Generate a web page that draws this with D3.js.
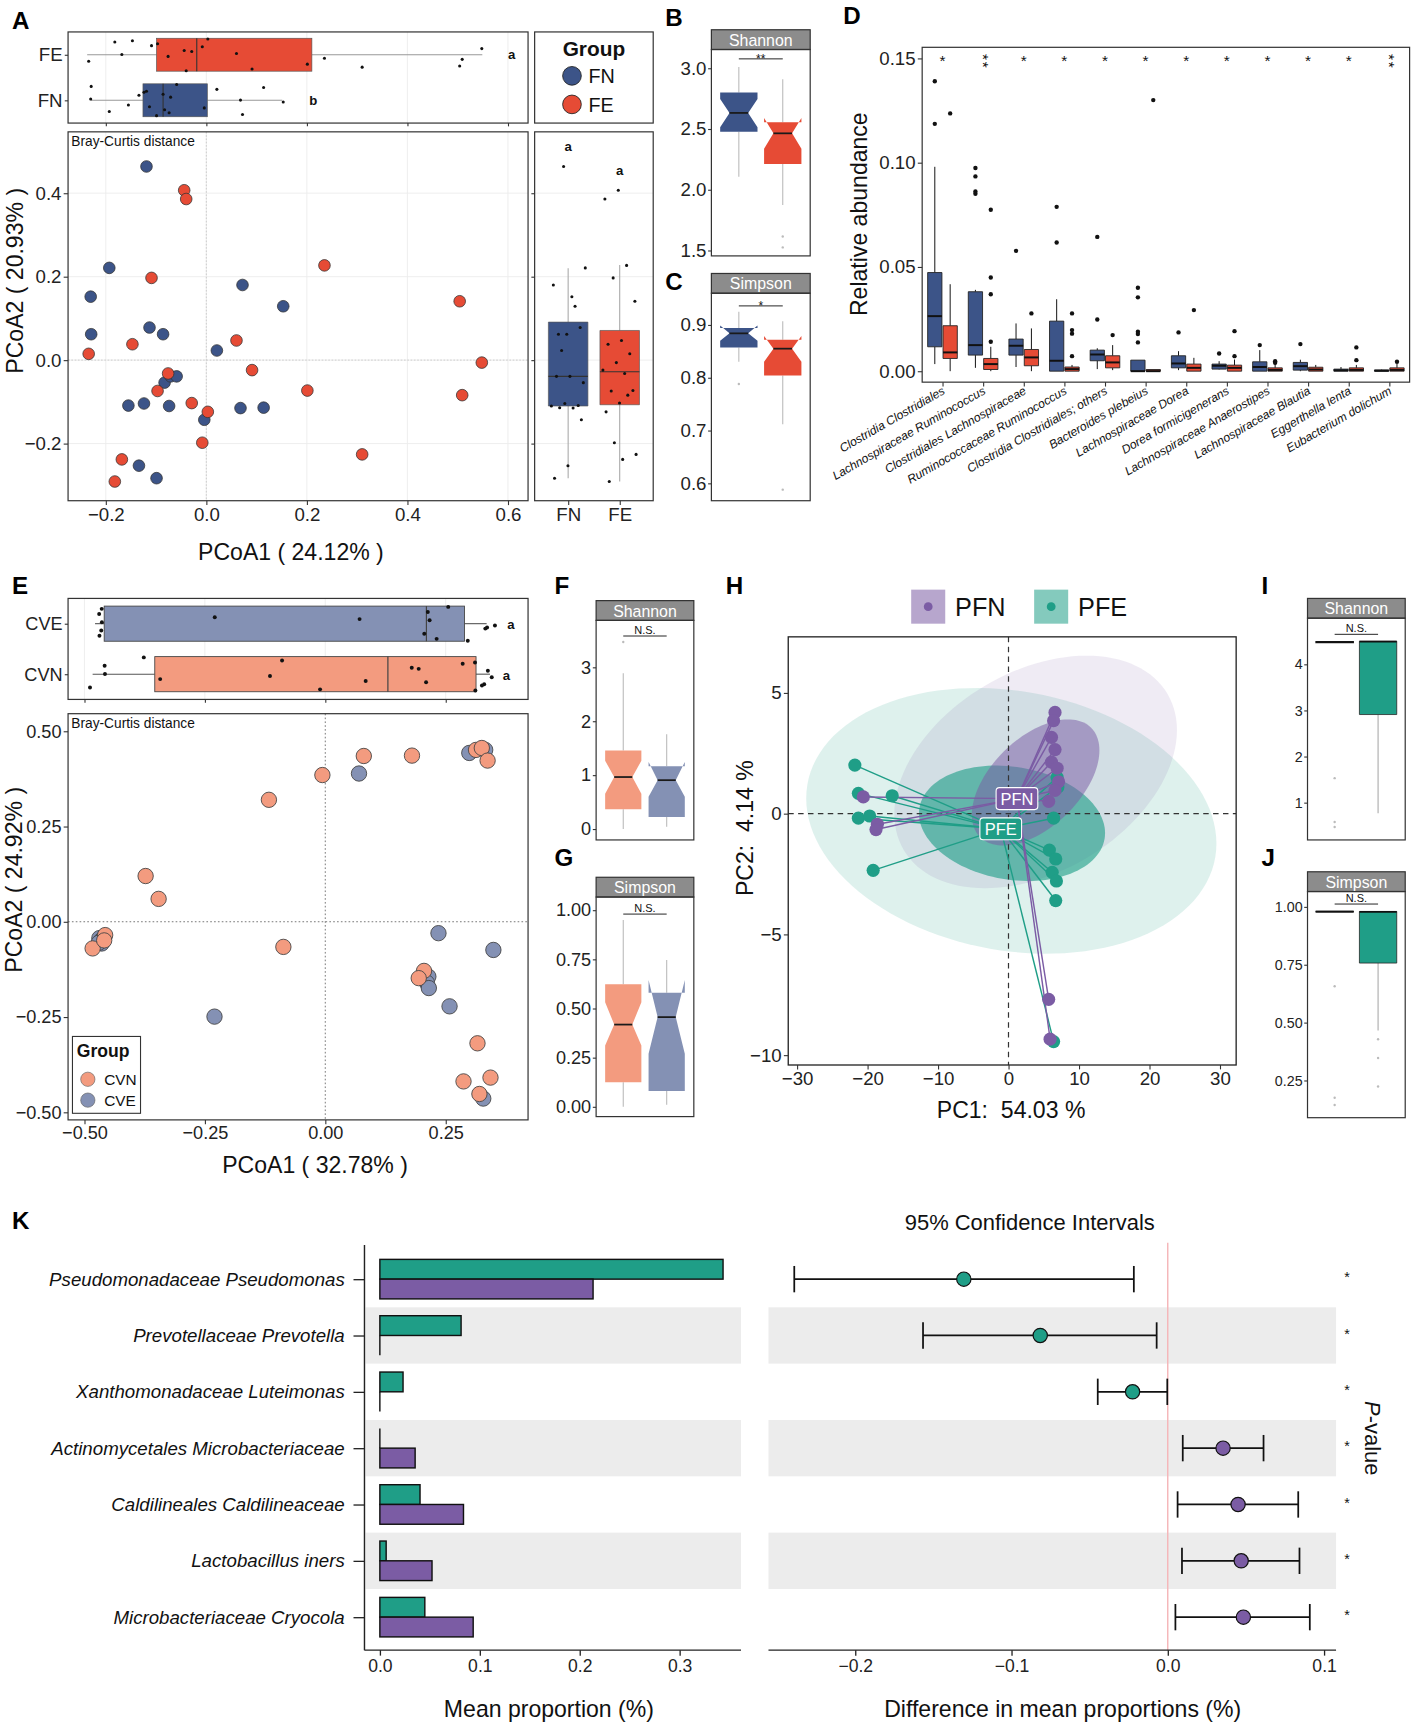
<!DOCTYPE html>
<html><head><meta charset="utf-8">
<script src="https://cdn.jsdelivr.net/npm/d3@7"></script>
<style>body{margin:0;background:#fff}svg{display:block}</style>
</head><body>
<svg id="fig"></svg>
<script>
// ================= DATA =================
// Panel A (PCoA, FN vs FE)
const aFN = [[-0.119,0.464],[-0.193,0.221],[-0.230,0.152],[-0.229,0.062],[-0.113,0.078],[-0.086,0.062],[0.072,0.180],[0.153,0.129],[0.021,0.023],[-0.083,-0.054],[-0.071,-0.039],[-0.059,-0.039],[-0.155,-0.109],[-0.124,-0.104],[-0.074,-0.110],[0.068,-0.115],[0.114,-0.114],[-0.004,-0.143],[-0.134,-0.253],[-0.099,-0.283]];
const aFE = [[-0.044,0.407],[-0.040,0.386],[0.235,0.227],[-0.109,0.197],[0.504,0.141],[0.060,0.047],[-0.147,0.038],[-0.234,0.015],[0.548,-0.006],[0.091,-0.024],[-0.076,-0.032],[-0.097,-0.074],[0.201,-0.073],[-0.029,-0.103],[0.003,-0.124],[0.509,-0.084],[-0.008,-0.198],[0.310,-0.226],[-0.168,-0.238],[-0.182,-0.291]];
const aTopFE = [-0.237,-0.099,-0.019,0.210,0.549];
const aTopFN = [-0.230,-0.126,-0.086,0.002,0.151];
const aRightFN = [-0.283,-0.110,-0.039,0.091,0.220];
const aRightFE = [-0.291,-0.107,-0.028,0.071,0.228];
const aXTicks = [-0.2,0,0.2,0.4,0.6], aXLabels = ["\u22120.2","0.0","0.2","0.4","0.6"];
const aYTicks = [-0.2,0,0.2,0.4], aYLabels = ["\u22120.2","0.0","0.2","0.4"];
// Panel B / C
const bFN = [2.107,2.478,2.632,2.80,3.01], bFNnotch = [2.514,2.747];
const bFE = [1.874,2.212,2.464,2.555,2.91], bFEnotch = [2.337,2.59], bFEout = [1.615,1.525];
const bTicks = [1.5,2.0,2.5,3.0], bLabels = ["1.5","2.0","2.5","3.0"];
const cFN = [0.83,0.857,0.884,0.894,0.925], cFNnotch = [0.870,0.899], cFNout = [0.788];
const cFE = [0.712,0.804,0.855,0.872,0.907], cFEnotch = [0.830,0.879], cFEout = [0.588];
const cTicks = [0.6,0.7,0.8,0.9], cLabels = ["0.6","0.7","0.8","0.9"];
// Panel D
const dCats = ["Clostridia Clostridiales","Lachnospiraceae Ruminococcus","Clostridiales Lachnospiraceae","Ruminococcaceae Ruminococcus","Clostridia Clostridiales; others","Bacteroides plebeius","Lachnospiraceae Dorea","Dorea formicigenerans","Lachnospiraceae Anaerostipes","Lachnospiraceae Blautia","Eggerthella lenta","Eubacterium dolichum"];
const dFN = [[0.0034,0.0117,0.0264,0.0473,0.098],[0.0016,0.0077,0.0125,0.0381,0.039],[0.002,0.0077,0.0122,0.0154,0.0229],[0,0,0.005,0.024,0.0345],[0.001,0.005,0.008,0.0101,0.011],[0,0,0,0.0053,0.0053],[0.0005,0.0016,0.0037,0.0074,0.0096],[0.0008,0.001,0.0026,0.0034,0.0048],[0,0,0.002,0.0045,0.0101],[0,0.0005,0.0024,0.0042,0.0055],[0,0,0.0004,0.001,0.002],[0,0,0.0002,0.0006,0.0008]];
const dFNout = [[0.1186,0.139],[0.0974,0.0934,0.0862,0.0851],[0.0577],[0.0788,0.0617],[0.0644,0.0248],[0.040,0.0354,0.0189,0.0178,0.0138],[0.0186],[0.0085],[0.0125],[0.013],[],[]];
const dFE = [[0,0.0061,0.009,0.0218,0.0417],[0,0.0008,0.0034,0.0061,0.0117],[0,0.0026,0.0066,0.0104,0.0205],[0,0,0.001,0.002,0.003],[0.0005,0.0016,0.0042,0.0074,0.0125],[0,0,0,0.0008,0.0008],[0,0,0.0016,0.0034,0.0064],[0,0,0.0016,0.0029,0.0056],[0,0,0.0006,0.0016,0.0035],[0,0,0.0008,0.0019,0.003],[0,0,0.0006,0.0016,0.003],[0,0,0.0006,0.0016,0.0035]];
const dFEout = [[0.1236],[0.0774,0.0449,0.0369,0.0141],[0.0277],[0.0277,0.0197,0.018,0.0072],[0.0173],[0.130],[0.0293],[0.0192,0.0072],[0.0048,0.004],[],[0.0114,0.0053],[0.0045]];
const dSig = ["*","**","*","*","*","*","*","*","*","*","*","**"];
const dTicks = [0,0.05,0.10,0.15], dLabels = ["0.00","0.05","0.10","0.15"];
// Panel E
const eCVE = [[0.070,0.389],[0.299,0.443],[0.332,0.451],[-0.469,-0.043],[-0.464,-0.057],[-0.466,-0.050],[-0.462,-0.045],[-0.470,-0.055],[-0.230,-0.249],[0.235,-0.030],[0.349,-0.074],[0.214,-0.144],[0.211,-0.160],[0.215,-0.174],[0.258,-0.222],[0.328,-0.464]];
const eCVN = [[0.080,0.435],[0.180,0.436],[-0.006,0.385],[-0.117,0.320],[0.313,0.451],[0.325,0.456],[0.337,0.423],[-0.373,0.120],[-0.346,0.060],[-0.457,-0.035],[-0.483,-0.070],[-0.459,-0.049],[-0.087,-0.066],[0.205,-0.129],[0.194,-0.148],[0.316,-0.319],[0.343,-0.409],[0.287,-0.419],[0.320,-0.452]];
const eTopCVE = [-0.478,-0.459,0.210,0.289,0.335];
const eTopCVN = [-0.483,-0.354,0.130,0.313,0.342];
const eXTicks = [-0.5,-0.25,0,0.25], eXLabels = ["\u22120.50","\u22120.25","0.00","0.25"];
const eYTicks = [0.5,0.25,0,-0.25,-0.5], eYLabels = ["0.50","0.25","0.00","\u22120.25","\u22120.50"];
// Panel F / G
const fCVN = [0,0.368,0.964,1.455,2.89], fCVNnotch = [0.653,1.267], fCVNout = [3.47];
const fCVE = [0.04,0.224,0.906,1.166,1.76], fCVEnotch = [0.60,1.245];
const fTicks = [0,1,2,3], fLabels = ["0","1","2","3"];
const gCVN = [0,0.125,0.418,0.623,0.95], gCVNnotch = [0.311,0.532];
const gCVE = [0.01,0.08,0.456,0.58,0.746], gCVEnotch = [0.27,0.645];
const gTicks = [0,0.25,0.5,0.75,1.0], gLabels = ["0.00","0.25","0.50","0.75","1.00"];
// Panel H (PCA)
const hPFN = [[6.6,4.19],[6.4,3.85],[6.1,3.16],[6.6,2.65],[6.1,2.13],[6.9,1.88],[7.1,1.32],[6.6,0.96],[5.7,0.51],[-20.6,0.69],[-18.6,-0.44],[-18.8,-0.66],[5.7,-7.69],[5.9,-9.34]];
const hPFE = [[-21.8,2.01],[-21.3,0.84],[-16.5,0.74],[-21.3,-0.19],[-19.7,-0.10],[-19.2,-2.35],[6.4,-0.19],[5.8,-1.51],[6.7,-1.88],[6.2,-2.43],[6.8,-2.79],[6.7,-3.60],[6.4,-9.44],[6.9,1.5],[7.0,1.1]];
const hCentroidPFN = [1.2,0.62], hCentroidPFE = [-1.1,-0.63];
// ellipses: [cx, cy, x-halfwidth, y-halfheight, correlation]
const hEllPFEouter = [0.4,-0.3,29.1,5.5,-0.17];
const hEllPFNouter = [3.85,1.725,20.05,4.815,0.36];
const hEllPFEinner = [0.5,-0.4,13.2,2.39,-0.17];
const hEllPFNinner = [3.85,1.29,9.05,2.61,0.51];
const hXTicks = [-30,-20,-10,0,10,20,30], hXLabels = ["\u221230","\u221220","\u221210","0","10","20","30"];
const hYTicks = [5,0,-5,-10], hYLabels = ["5","0","\u22125","\u221210"];
// Panel I / J
const iPFN = [4.47,4.47,4.48,4.49,4.49], iPFNout = [1.53,0.58,0.47];
const iPFE = [0.77,2.91,4.49,4.50,4.50];
const iTicks = [1,2,3,4], iLabels = ["1","2","3","4"];
const jPFN = [0.978,0.978,0.979,0.980,0.980], jPFNout = [0.657,0.175,0.144];
const jPFE = [0.466,0.757,0.978,0.980,0.980], jPFEout = [0.428,0.347,0.224];
const jTicks = [0.25,0.5,0.75,1.0], jLabels = ["0.25","0.50","0.75","1.00"];
// Panel K
const kTaxa = ["Pseudomonadaceae Pseudomonas","Prevotellaceae Prevotella","Xanthomonadaceae Luteimonas","Actinomycetales Microbacteriaceae","Caldilineales Caldilineaceae","Lactobacillus iners","Microbacteriaceae Cryocola"];
const kPFE = [0.3435,0.0813,0.0232,0,0.0402,0.0063,0.045];
const kPFN = [0.2134,0,0,0.0353,0.0837,0.0522,0.0934];
const kDiff = [-0.1305,-0.0816,-0.0225,0.0354,0.045,0.047,0.0484];
const kLo = [-0.239,-0.1566,-0.0448,0.0096,0.0063,0.0091,0.0049];
const kHi = [-0.0217,-0.0071,-0.0003,0.0613,0.0835,0.0843,0.0909];
const kP = ["*","*","*","*","*","*","*"];
const kTicks = [0,0.1,0.2,0.3], kLabels = ["0.0","0.1","0.2","0.3"];
const ciTicks = [-0.2,-0.1,0,0.1], ciLabels = ["\u22120.2","\u22120.1","0.0","0.1"];

// ================= STYLE =================
const C_FN="#3C5488", C_FE="#E64B35", C_CVN="#F39B7F", C_CVE="#8491B4", C_PFN="#7B5CA4", C_PFE="#1F9E87";
const SANS="'Liberation Sans', Arial, Helvetica, sans-serif";
const NARROW="'Liberation Sans Narrow', 'Arial Narrow', 'Liberation Sans', sans-serif";
const SP="\u00a0";

const W=1288,H=1572;
const svg=d3.select('#fig').attr('width',1414).attr('height',1726).attr('viewBox',`0 0 ${W} ${H}`);
svg.append('rect').attr('width',W).attr('height',H).attr('fill','#fff');

function txt(g,x,y,s,o={}){
  const t=g.append('text').attr('x',x).attr('y',y).text(s)
    .attr('font-family',o.ff||SANS).attr('font-size',o.fs||16).attr('fill',o.fill||'#111')
    .attr('text-anchor',o.anchor||'start');
  if(o.fw) t.attr('font-weight',o.fw);
  if(o.it) t.attr('font-style','italic');
  if(o.rot!==undefined) t.attr('transform',`rotate(${o.rot},${x},${y})`);
  return t;
}
function line(g,x1,y1,x2,y2,col,w,dash){
  const l=g.append('line').attr('x1',x1).attr('y1',y1).attr('x2',x2).attr('y2',y2).attr('stroke',col||'#333').attr('stroke-width',w||1);
  if(dash) l.attr('stroke-dasharray',dash);
  return l;
}
function frame(g,x0,y0,x1,y1,col,w){
  g.append('rect').attr('x',x0).attr('y',y0).attr('width',x1-x0).attr('height',y1-y0).attr('fill','none').attr('stroke',col||'#333').attr('stroke-width',w||1.1);
}
function axis(g,orient,scale,pos,vals,labels,o={}){
  const gen=(orient==='left'?d3.axisLeft:d3.axisBottom)(scale).tickValues(vals)
    .tickSize(o.ts??4).tickPadding(o.tp??2).tickFormat((d,i)=>labels?labels[i]:'');
  const a=g.append('g').attr('transform',orient==='left'?`translate(${pos},0)`:`translate(0,${pos})`).call(gen);
  a.select('.domain').remove();
  a.selectAll('line').attr('stroke',o.tc||'#333').attr('stroke-width',o.tw||1);
  a.selectAll('text').attr('font-family',o.ff||SANS).attr('font-size',o.fs||16).attr('fill',o.col||'#222');
  if(o.it) a.selectAll('text').attr('font-style','italic');
  return a;
}
function strip(g,x0,x1,y0,y1,label){
  g.append('rect').attr('x',x0).attr('y',y0).attr('width',x1-x0).attr('height',y1-y0).attr('fill','#8c8c8c').attr('stroke','#333').attr('stroke-width',1.1);
  txt(g,(x0+x1)/2,y1-3.5,label,{fs:14.5,fill:'#fff',anchor:'middle'});
}
// vertical box: s=[wlo,q1,med,q3,whi]
function boxV(g,y,cx,w,s,o){
  line(g,cx,y(s[0]),cx,y(s[1]),o.wcol||'#333',o.ww||0.8);
  line(g,cx,y(s[3]),cx,y(s[4]),o.wcol||'#333',o.ww||0.8);
  const l=cx-w/2,r=cx+w/2;let pts;
  if(o.notch){const [nl,nh]=o.notch;
    pts=[[l,y(s[3])],[l,y(nh)],[cx-w/4,y(s[2])],[l,y(nl)],[l,y(s[1])],[r,y(s[1])],[r,y(nl)],[cx+w/4,y(s[2])],[r,y(nh)],[r,y(s[3])]];
  } else pts=[[l,y(s[3])],[l,y(s[1])],[r,y(s[1])],[r,y(s[3])]];
  g.append('path').attr('d','M'+pts.map(p=>p.join(',')).join('L')+'Z').attr('fill',o.fill).attr('stroke',o.stroke||'none').attr('stroke-width',o.sw||0.6);
  const ml=o.notch?cx-w/4:l, mr=o.notch?cx+w/4:r;
  line(g,ml,y(s[2]),mr,y(s[2]),o.mcol||'#222',o.mw||1.6);
  (o.out||[]).forEach(v=>g.append('circle').attr('cx',cx).attr('cy',y(v)).attr('r',o.or||1.2).attr('fill',o.ocol||'#bbb'));
}
function boxH(g,x,cy,h,s,o){
  line(g,x(s[0]),cy,x(s[1]),cy,o.wcol||'#999',o.ww||1);
  line(g,x(s[3]),cy,x(s[4]),cy,o.wcol||'#999',o.ww||1);
  g.append('rect').attr('x',x(s[1])).attr('y',cy-h/2).attr('width',x(s[3])-x(s[1])).attr('height',h).attr('fill',o.fill).attr('stroke',o.stroke||'#555').attr('stroke-width',o.sw||0.6);
  line(g,x(s[2]),cy-h/2,x(s[2]),cy+h/2,o.mcol||'#333',o.mw||1);
}
const jit=(i,amp)=>((i*0.6180339887+0.37)%1-0.5)*2*amp;
function sigBar(g,x1,x2,y,label,fs){
  line(g,x1,y,x2,y,'#222',0.9);
  const star=label.indexOf('*')>=0;
  txt(g,(x1+x2)/2,star?y+3.5:y-2,label,{fs:fs||10,anchor:'middle',fill:'#111'});
}
function panelLetter(s,x,y){ txt(svg,x,y,s,{fs:22,fw:'bold',fill:'#000'}); }

// ================= PANEL A =================
{
const g=svg.append('g');
const xA=d3.scaleLinear().domain([-0.275,0.64]).range([62,481]);
const yA=d3.scaleLinear().domain([-0.337,0.547]).range([456,120]);
aXTicks.forEach(v=>{line(g,xA(v),120,xA(v),456,'#ececec',0.8);line(g,xA(v),29,xA(v),112,'#ececec',0.8);});
aYTicks.forEach(v=>{line(g,62,yA(v),481,yA(v),'#ececec',0.8);line(g,487,yA(v),595,yA(v),'#ececec',0.8);});
line(g,xA(0),120,xA(0),456,'#c8c8c8',0.8,'1.5,1.5');
line(g,62,yA(0),481,yA(0),'#c8c8c8',0.8,'1.5,1.5');
const yT=d3.scaleBand().domain(['FN','FE']).range([112,29]);
const cFE=yT('FE')+yT.bandwidth()/2, cFNy=yT('FN')+yT.bandwidth()/2;
boxH(g,xA,cFE,30,aTopFE,{fill:C_FE});
boxH(g,xA,cFNy,30,aTopFN,{fill:C_FN});
aFE.forEach((p,i)=>g.append('circle').attr('cx',xA(p[0])).attr('cy',cFE+jit(i,15)).attr('r',1.4).attr('fill','#111'));
aFN.forEach((p,i)=>g.append('circle').attr('cx',xA(p[0])).attr('cy',cFNy+jit(i+3,15)).attr('r',1.4).attr('fill','#111'));
txt(g,xA(0.60),cFE+4,'a',{fs:12,fw:'bold'});
txt(g,xA(0.205),cFNy+4,'b',{fs:12,fw:'bold'});
frame(g,62,29,481,112);
axis(g,'left',d3.scalePoint().domain(['FN','FE']).range([cFNy,cFE]),62,['FE','FN'],['FE','FN'],{fs:17,ts:3});
axis(g,'bottom',xA,112,aXTicks,null,{ts:3});
frame(g,487,29,595,112);
txt(g,541,51,'Group',{fs:19,fw:'bold',anchor:'middle'});
[['FN',C_FN,69],['FE',C_FE,95]].forEach(([n,c,yy])=>{
  g.append('circle').attr('cx',521).attr('cy',yy).attr('r',8.5).attr('fill',c).attr('stroke','#222').attr('stroke-width',0.8);
  txt(g,536,yy+6.5,n,{fs:18});
});
txt(g,65,133,'Bray-Curtis distance',{fs:12.5});
aFN.forEach(p=>g.append('circle').attr('cx',xA(p[0])).attr('cy',yA(p[1])).attr('r',5.3).attr('fill',C_FN).attr('stroke','#333').attr('stroke-width',0.7));
aFE.forEach(p=>g.append('circle').attr('cx',xA(p[0])).attr('cy',yA(p[1])).attr('r',5.3).attr('fill',C_FE).attr('stroke','#333').attr('stroke-width',0.7));
frame(g,62,120,481,456);
axis(g,'left',yA,62,aYTicks,aYLabels,{fs:17});
axis(g,'bottom',xA,456,aXTicks,aXLabels,{fs:17});
txt(g,21,yA(0.19),'PCoA2 ( 20.93% )',{fs:21,anchor:'middle',rot:-90,fill:'#111'});
txt(g,265,510,'PCoA1 ( 24.12% )',{fs:21,anchor:'middle'});
const xR=d3.scalePoint().domain(['FN','FE']).range([487,595]).padding(0.65);
boxV(g,yA,xR('FN'),36,aRightFN,{fill:C_FN,stroke:'#555',sw:0.6,wcol:'#aaa',ww:1,mcol:'#333',mw:1});
boxV(g,yA,xR('FE'),36,aRightFE,{fill:C_FE,stroke:'#555',sw:0.6,wcol:'#aaa',ww:1,mcol:'#333',mw:1});
aFN.forEach((p,i)=>g.append('circle').attr('cx',xR('FN')+jit(i,16)).attr('cy',yA(p[1])).attr('r',1.4).attr('fill','#111'));
aFE.forEach((p,i)=>g.append('circle').attr('cx',xR('FE')+jit(i+5,16)).attr('cy',yA(p[1])).attr('r',1.4).attr('fill','#111'));
txt(g,xR('FN'),yA(0.512)+4,'a',{fs:12,fw:'bold',anchor:'middle'});
txt(g,xR('FE'),yA(0.454)+4,'a',{fs:12,fw:'bold',anchor:'middle'});
frame(g,487,120,595,456);
axis(g,'bottom',xR,456,['FN','FE'],['FN','FE'],{fs:17});
axis(g,'left',yA,487,aYTicks,null,{ts:3});
}
panelLetter('A',11,26);

// ================= alpha-diversity helper =================
function alphaPanel(x0,x1,ys,ye,stripLabel,domain,ticks,labels,boxes,sig,opt){
  const g=svg.append('g');
  strip(g,x0,x1,ys,ys+18,stripLabel);
  const y=d3.scaleLinear().domain(domain).range([ye,ys+18]);
  const xp=d3.scalePoint().domain(['a','b']).range([x0,x1]).padding(0.625);
  boxes.forEach((b,i)=>boxV(g,y,xp(i?'b':'a'),opt.bw||34,b.s,Object.assign({wcol:'#bbb',ww:1,mcol:'#1a1a1a',mw:1.6,ocol:'#bbb',or:1.1},opt.box||{},b)));
  frame(g,x0,ys+18,x1,ye);
  axis(g,'left',y,x0,ticks,labels,{fs:opt.fs||17,ff:opt.ff||NARROW,ts:3,tp:1.5});
  sigBar(g,xp('a'),xp('b'),y(sig[0]),sig[1],sig[2]);
  return y;
}
alphaPanel(648,738,27,233,'Shannon',[1.455,3.154],bTicks,bLabels,
  [{s:bFN,fill:C_FN,notch:bFNnotch},{s:bFE,fill:C_FE,notch:bFEnotch,out:bFEout}],[3.077,'**',11],{});
alphaPanel(648,738,249,456,'Simpson',[0.567,0.960],cTicks,cLabels,
  [{s:cFN,fill:C_FN,notch:cFNnotch,out:cFNout},{s:cFE,fill:C_FE,notch:cFEnotch,out:cFEout}],[0.936,'*',11],{});
panelLetter('B',606,24);
panelLetter('C',606,264);

// ================= PANEL D =================
{
const g=svg.append('g');
const xD=d3.scaleBand().domain(dCats).range([840,1284]);
const yD=d3.scaleLinear().domain([-0.00526,0.1553]).range([348,43]);
dCats.forEach((c,i)=>{
  const cx=xD(c)+xD.bandwidth()/2;
  boxV(g,yD,cx-7,13,dFN[i],{fill:C_FN,stroke:'#222',sw:0.8,wcol:'#111',ww:0.9,mcol:'#111',mw:1.8,out:dFNout[i],ocol:'#111',or:2});
  boxV(g,yD,cx+7,13,dFE[i],{fill:C_FE,stroke:'#222',sw:0.8,wcol:'#111',ww:0.9,mcol:'#111',mw:1.8,out:dFEout[i],ocol:'#111',or:2});
  const y0=yD(0.15);
  if(dSig[i]==='**'){
    // stacked stars: one text run rotated so the two glyphs sit one above the other
    g.append('text').attr('transform',`translate(${cx-5},${y0-4}) rotate(90)`).attr('text-anchor','start')
      .attr('font-family',SANS).attr('font-size',14).attr('letter-spacing',1.6).attr('fill','#111').text('**');
  } else {
    txt(g,cx,y0+7,'*',{fs:14,anchor:'middle'});
  }
  txt(g,cx+3,358,c,{fs:11,it:true,anchor:'end',rot:-30,fill:'#111'});
});
frame(g,840,43,1284,348);
axis(g,'left',yD,840,dTicks,dLabels,{fs:17,ff:NARROW,ts:4});
const xc=d3.scalePoint().domain(dCats).range([840+xD.bandwidth()/2,1284-xD.bandwidth()/2]);
axis(g,'bottom',xc,348,dCats,null,{ts:4});
txt(g,790,195,'Relative abundance',{fs:21,anchor:'middle',rot:-90});
}
panelLetter('D',768,22);

// ================= PANEL E =================
{
const g=svg.append('g');
const xE=d3.scaleLinear().domain([-0.534,0.421]).range([62,481]);
const yE=d3.scaleLinear().domain([-0.520,0.546]).range([1020,650]);
const yT=d3.scaleBand().domain(['CVN','CVE']).range([637,545]);
const cCVE=yT('CVE')+yT.bandwidth()/2, cCVN=yT('CVN')+yT.bandwidth()/2;
eXTicks.forEach(v=>line(g,xE(v),545,xE(v),637,'#ececec',0.8));
boxH(g,xE,cCVE,32,eTopCVE,{fill:C_CVE,stroke:'#444',sw:0.8,wcol:'#555',ww:1,mcol:'#444',mw:1.1});
boxH(g,xE,cCVN,32,eTopCVN,{fill:C_CVN,stroke:'#444',sw:0.8,wcol:'#555',ww:1,mcol:'#444',mw:1.1});
eCVE.forEach((p,i)=>g.append('circle').attr('cx',xE(p[0])+jit(i+2,2.5)).attr('cy',cCVE+jit(i,16)).attr('r',1.8).attr('fill','#111'));
eCVN.forEach((p,i)=>g.append('circle').attr('cx',xE(p[0])+jit(i+4,2.5)).attr('cy',cCVN+jit(i+7,16)).attr('r',1.8).attr('fill','#111'));
txt(g,462,cCVE+5,'a',{fs:12,fw:'bold'});
txt(g,458,cCVN+5,'a',{fs:12,fw:'bold'});
frame(g,62,545,481,637);
axis(g,'left',d3.scalePoint().domain(['CVN','CVE']).range([cCVN,cCVE]),62,['CVE','CVN'],['CVE','CVN'],{fs:16.5,ts:3});
axis(g,'bottom',xE,637,eXTicks,null,{ts:3});
line(g,xE(0),650,xE(0),1020,'#777',0.9,'1.5,2');
line(g,62,yE(0),481,yE(0),'#777',0.9,'1.5,2');
txt(g,65,663,'Bray-Curtis distance',{fs:12.5});
eCVE.forEach(p=>g.append('circle').attr('cx',xE(p[0])).attr('cy',yE(p[1])).attr('r',7).attr('fill',C_CVE).attr('stroke','#444').attr('stroke-width',0.8));
eCVN.forEach(p=>g.append('circle').attr('cx',xE(p[0])).attr('cy',yE(p[1])).attr('r',7).attr('fill',C_CVN).attr('stroke','#444').attr('stroke-width',0.8));
frame(g,62,650,481,1020);
axis(g,'left',yE,62,eYTicks,eYLabels,{fs:16.5});
axis(g,'bottom',xE,1020,eXTicks,eXLabels,{fs:16.5});
txt(g,20,yE(0.11),'PCoA2 ( 24.92% )',{fs:21,anchor:'middle',rot:-90});
txt(g,287,1068,'PCoA1 ( 32.78% )',{fs:21,anchor:'middle'});
g.append('rect').attr('x',66).attr('y',944).attr('width',62).attr('height',70).attr('fill','#fff').attr('stroke','#333').attr('stroke-width',1);
txt(g,70,963,'Group',{fs:16,fw:'bold'});
[['CVN',C_CVN,983],['CVE',C_CVE,1002]].forEach(([n,c,yy])=>{
  g.append('circle').attr('cx',80).attr('cy',yy).attr('r',6.5).attr('fill',c).attr('stroke','#666').attr('stroke-width',0.6);
  txt(g,95,yy+5,n,{fs:14});
});
}
panelLetter('E',11,541);

// ================= PANEL F / G =================
alphaPanel(543,632,547,765,'Shannon',[-0.203,3.87],fTicks,fLabels,
  [{s:fCVN,fill:C_CVN,notch:fCVNnotch,out:fCVNout},{s:fCVE,fill:C_CVE,notch:fCVEnotch}],[3.58,'N.S.',10],{bw:33,fs:16.5,ff:SANS});
alphaPanel(543,632,799,1017,'Simpson',[-0.05,1.0667],gTicks,gLabels,
  [{s:gCVN,fill:C_CVN,notch:gCVNnotch},{s:gCVE,fill:C_CVE,notch:gCVEnotch}],[0.98,'N.S.',10],{bw:33,fs:16.5,ff:SANS});
panelLetter('F',505,541);
panelLetter('G',505,789);

// ================= PANEL H =================
{
const g=svg.append('g');
const xH=d3.scaleLinear().domain([-31.25,32.3]).range([718,1126]);
const yH=d3.scaleLinear().domain([-10.41,7.32]).range([970,580]);
g.append('clipPath').attr('id','hclip').append('rect').attr('x',718).attr('y',580).attr('width',408).attr('height',390);
const inner=g.append('g').attr('clip-path','url(#hclip)');
function ell(e,col,alpha){
  const [cx,cy,sx,sy,rho]=e, d=Math.acos(rho);
  const pts=d3.range(0,361,3).map(a=>{const t=a*Math.PI/180;return [xH(cx+sx*Math.cos(t)),yH(cy+sy*Math.cos(t-d))];});
  inner.append('path').attr('d',d3.line().curve(d3.curveLinearClosed)(pts)).attr('fill',col).attr('fill-opacity',alpha).attr('stroke','none');
}
ell(hEllPFEouter,C_PFE,0.15);
ell(hEllPFNouter,C_PFN,0.12);
ell(hEllPFEinner,C_PFE,0.62);
ell(hEllPFNinner,C_PFN,0.52);
line(inner,xH(0),580,xH(0),970,'#333',1.1,'5,4');
line(inner,718,yH(0),1126,yH(0),'#333',1.1,'5,4');
hPFE.forEach(p=>line(inner,xH(hCentroidPFE[0]),yH(hCentroidPFE[1]),xH(p[0]),yH(p[1]),C_PFE,1.3));
hPFN.forEach(p=>line(inner,xH(hCentroidPFN[0]),yH(hCentroidPFN[1]),xH(p[0]),yH(p[1]),C_PFN,1.3));
hPFE.forEach(p=>inner.append('circle').attr('cx',xH(p[0])).attr('cy',yH(p[1])).attr('r',6).attr('fill',C_PFE));
hPFN.forEach(p=>inner.append('circle').attr('cx',xH(p[0])).attr('cy',yH(p[1])).attr('r',6).attr('fill',C_PFN));
function lab(c,s,col){
  const cx=xH(c[0]),cy=yH(c[1]);
  g.append('rect').attr('x',cx-19).attr('y',cy-10).attr('width',38).attr('height',20).attr('rx',3).attr('fill',col).attr('stroke','#fff').attr('stroke-width',1);
  txt(g,cx,cy+5.5,s,{fs:15,fill:'#fff',anchor:'middle'});
}
lab(hCentroidPFE,'PFE',C_PFE);
lab(hCentroidPFN,'PFN',C_PFN);
frame(g,718,580,1126,970,'#222',1.2);
axis(g,'left',yH,718,hYTicks,hYLabels,{fs:17,ff:NARROW});
axis(g,'bottom',xH,970,hXTicks,hXLabels,{fs:17,ff:NARROW});
txt(g,686,yH(-0.6),'PC2:'+SP+SP+'4.14 %',{fs:21,anchor:'middle',rot:-90,ff:NARROW});
txt(g,921,1018,'PC1:'+SP+SP+'54.03 %',{fs:21,anchor:'middle',ff:NARROW});
[['PFN',C_PFN,830],['PFE',C_PFE,942]].forEach(([n,c,x])=>{
  g.append('rect').attr('x',x).attr('y',537).attr('width',31).attr('height',31).attr('fill',c).attr('fill-opacity',0.55);
  g.append('circle').attr('cx',x+15.5).attr('cy',552.5).attr('r',4).attr('fill',c);
  txt(g,x+40,561,n,{fs:23,ff:NARROW});
});
}
panelLetter('H',661,541);

// ================= PANEL I / J =================
alphaPanel(1191,1280,545,765,'Shannon',[0.19,5.0],iTicks,iLabels,
  [{s:iPFN,fill:C_PFN,stroke:'#222',sw:1.2,out:iPFNout},{s:iPFE,fill:C_PFE,stroke:'#222',sw:0.7}],[4.65,'N.S.',10],{bw:34,fs:13,ff:SANS,box:{wcol:'#aaa',mcol:'#111',mw:1.5,ocol:'#bbb'}});
alphaPanel(1191,1280,794,1018,'Simpson',[0.089,1.066],jTicks,jLabels,
  [{s:jPFN,fill:C_PFN,stroke:'#222',sw:1.2,out:jPFNout},{s:jPFE,fill:C_PFE,stroke:'#222',sw:0.7,out:jPFEout}],[1.012,'N.S.',10],{bw:34,fs:13,ff:SANS,box:{wcol:'#aaa',mcol:'#111',mw:1.5,ocol:'#bbb'}});
panelLetter('I',1149,541);
panelLetter('J',1149,789);

// ================= PANEL K =================
{
const g=svg.append('g');
const rowK=d3.scaleBand().domain(kTaxa).range([1139.4,1498.6]);
const xK=d3.scaleLinear().domain([-0.0154,0.3615]).range([332,675]);
const xCI=d3.scaleLinear().domain([-0.2555,0.1077]).range([700,1217]);
const ctr=t=>rowK(t)+rowK.bandwidth()/2;
kTaxa.forEach((t,i)=>{ if(i%2===1){
  g.append('rect').attr('x',333).attr('y',rowK(t)).attr('width',342).attr('height',rowK.bandwidth()).attr('fill','#ececec');
  g.append('rect').attr('x',700).attr('y',rowK(t)).attr('width',517).attr('height',rowK.bandwidth()).attr('fill','#ececec');
}});
function bar(v,y0,col){
  if(v>0) g.append('rect').attr('x',xK(0)).attr('y',y0).attr('width',xK(v)-xK(0)).attr('height',18).attr('fill',col).attr('stroke','#111').attr('stroke-width',1.3);
  else line(g,xK(0),y0,xK(0),y0+18,'#111',1.3);
}
kTaxa.forEach((t,i)=>{ const c=ctr(t); bar(kPFE[i],c-18,C_PFE); bar(kPFN[i],c,C_PFN); });
line(g,332,1134,332,1503,'#222',1.3);
line(g,332,1503,675,1503,'#222',1.3);
const yPt=d3.scalePoint().domain(kTaxa).range([ctr(kTaxa[0]),ctr(kTaxa[6])]);
axis(g,'left',yPt,332,kTaxa,kTaxa,{fs:17,ff:NARROW,it:true,ts:10,tp:8,col:'#111',tc:'#222',tw:1.2});
axis(g,'bottom',xK,1503,kTicks,kLabels,{fs:16,ff:NARROW,ts:5,tp:4,tc:'#222',tw:1.2});
txt(g,500,1564,'Mean proportion (%)',{fs:21,anchor:'middle',ff:NARROW});
line(g,xCI(0),1132,xCI(0),1503,'#f5b5b8',1.3);
line(g,700,1503,1217,1503,'#222',1.3);
axis(g,'bottom',xCI,1503,ciTicks,ciLabels,{fs:16,ff:NARROW,ts:5,tp:4,tc:'#222',tw:1.2});
kTaxa.forEach((t,i)=>{
  const c=ctr(t);
  line(g,xCI(kLo[i]),c,xCI(kHi[i]),c,'#111',1.6);
  line(g,xCI(kLo[i]),c-12,xCI(kLo[i]),c+12,'#111',1.6);
  line(g,xCI(kHi[i]),c-12,xCI(kHi[i]),c+12,'#111',1.6);
  g.append('circle').attr('cx',xCI(kDiff[i])).attr('cy',c).attr('r',6.5).attr('fill',kDiff[i]<0?C_PFE:C_PFN).attr('stroke','#111').attr('stroke-width',1.1);
  txt(g,1227,c+3,kP[i],{fs:13,anchor:'middle',ff:NARROW});
});
txt(g,938,1120,'95% Confidence Intervals',{fs:20,anchor:'middle',ff:NARROW});
const pv=g.append('text').attr('transform','translate(1243,1310) rotate(90)').attr('text-anchor','middle').attr('font-family',NARROW).attr('font-size',20).attr('fill','#111');
pv.append('tspan').attr('font-style','italic').text('P');
pv.append('tspan').text('-value');
txt(g,968,1564,'Difference in mean proportions (%)',{fs:21,anchor:'middle',ff:NARROW});
}
panelLetter('K',11,1119);
</script>
</body></html>
